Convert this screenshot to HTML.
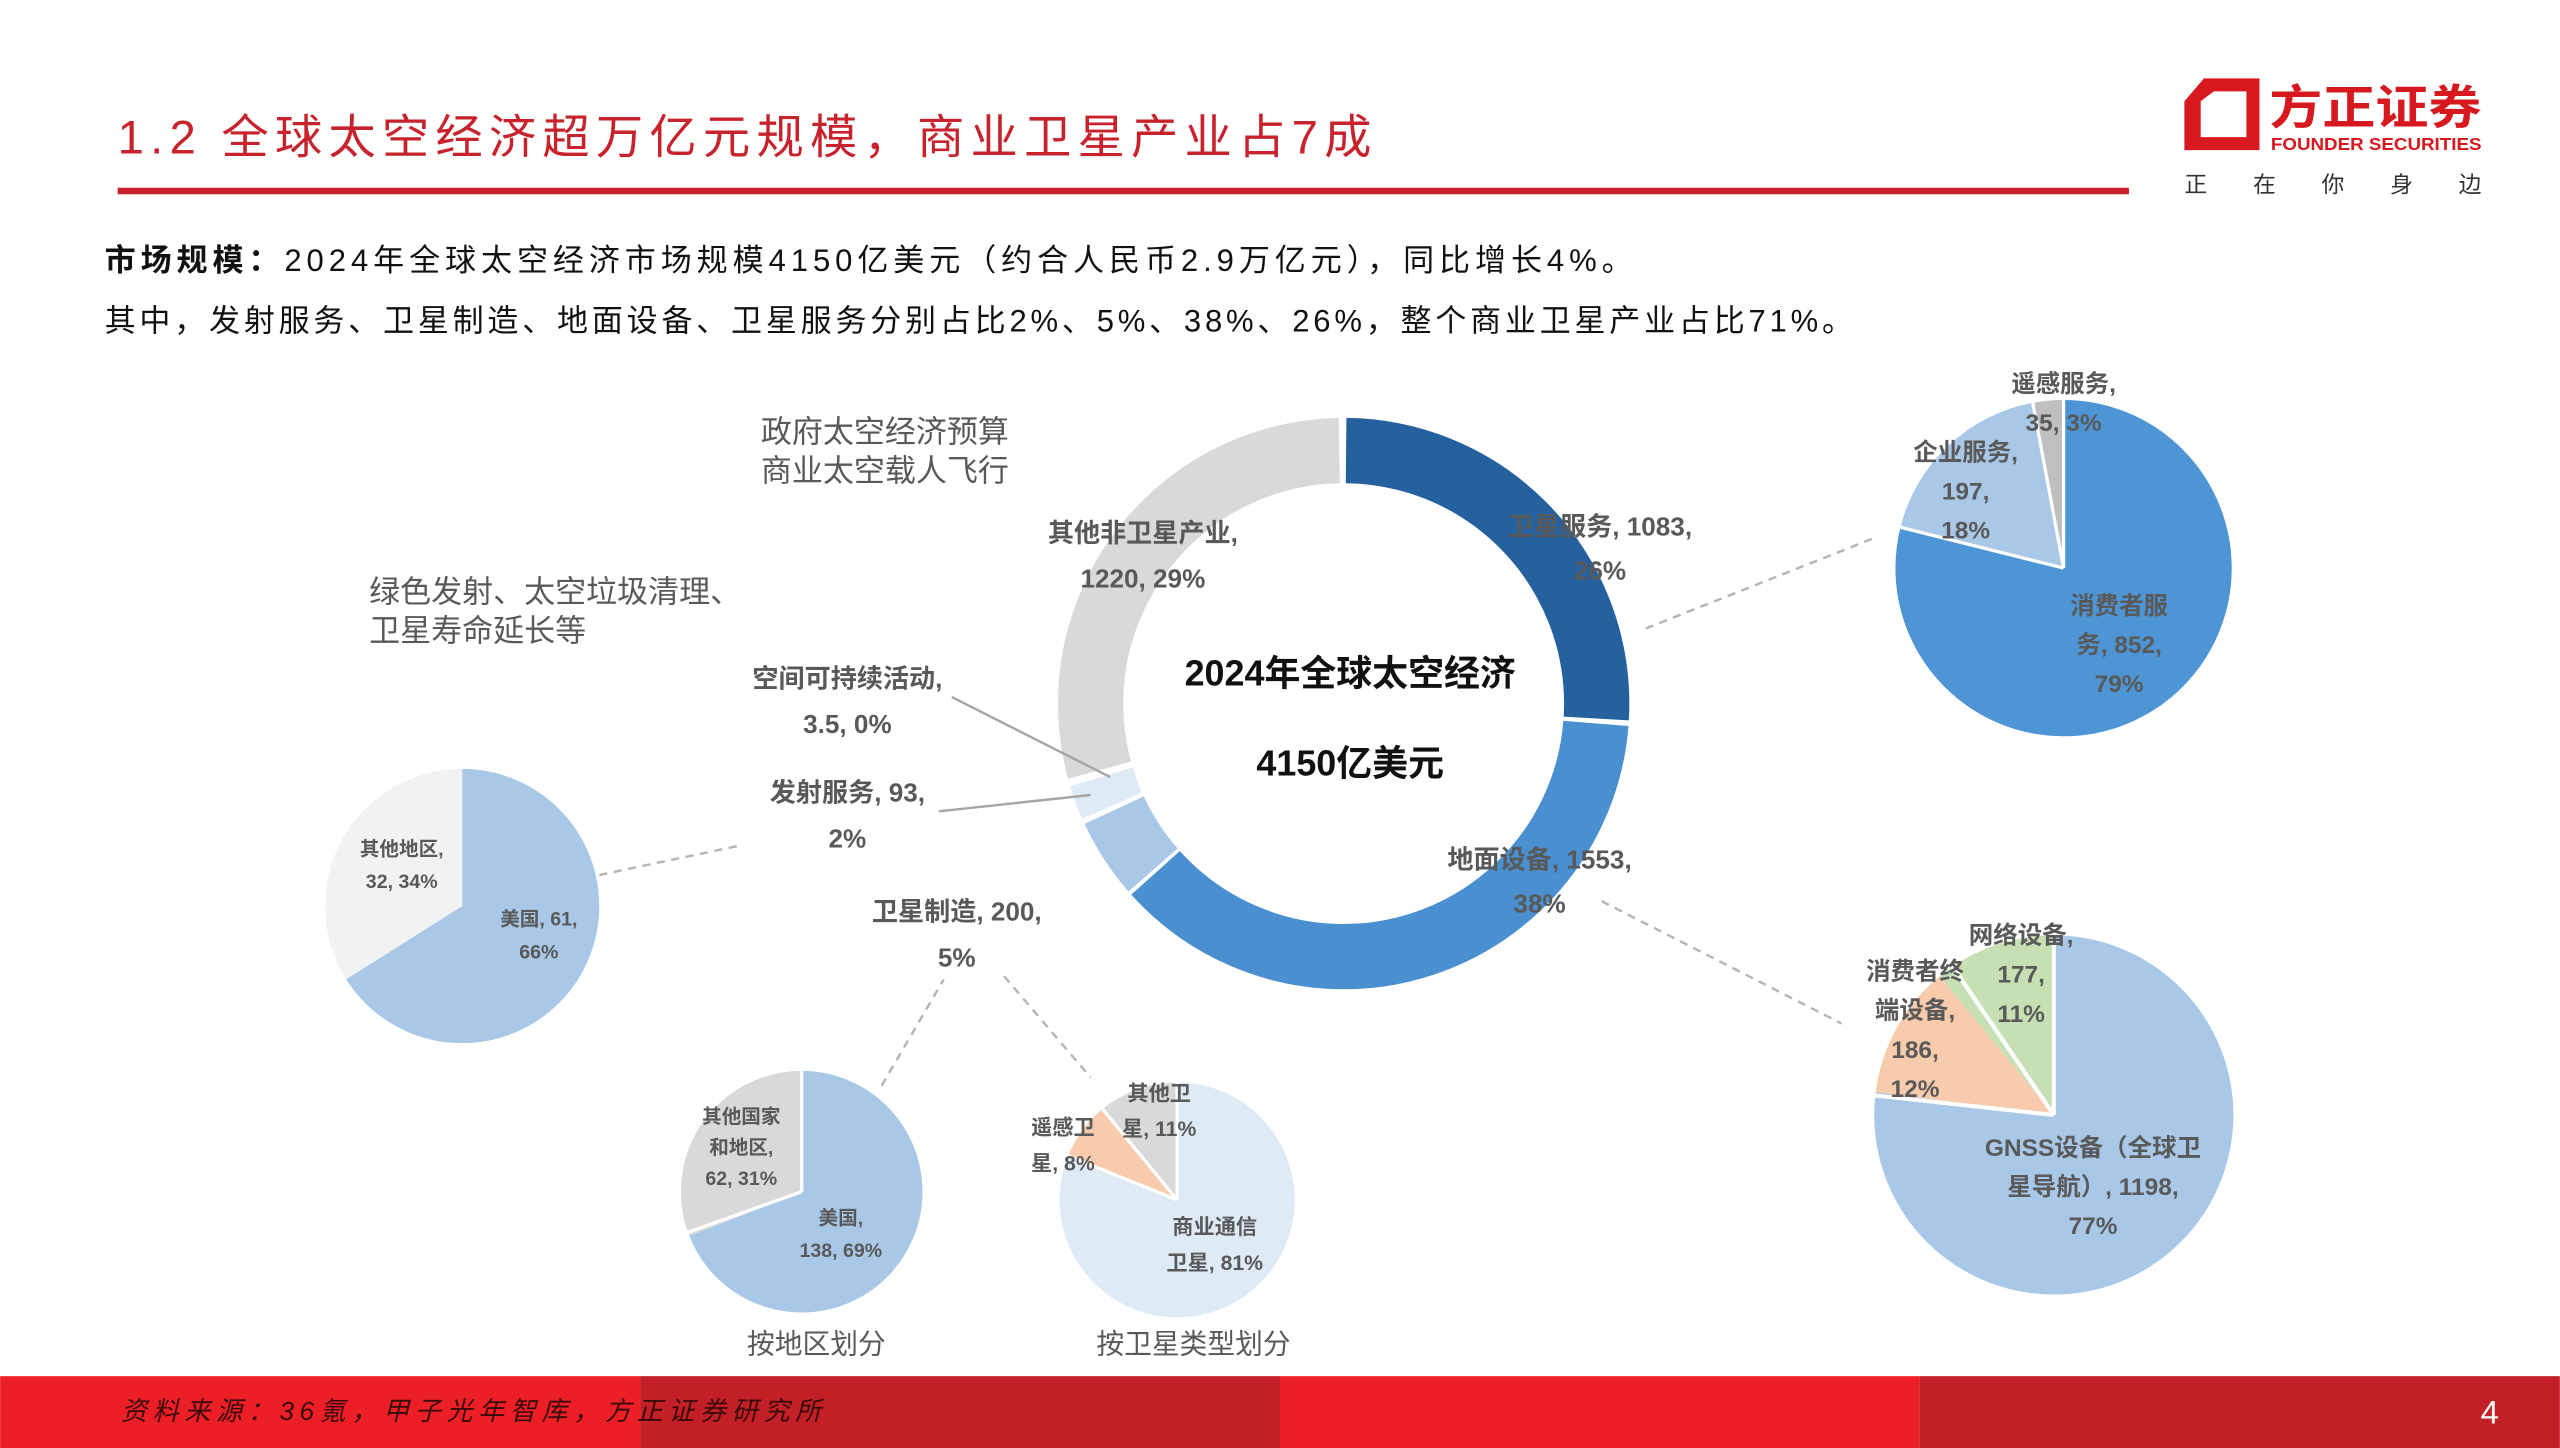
<!DOCTYPE html>
<html><head><meta charset="utf-8"><style>
html,body{margin:0;padding:0;background:#fff;}
svg{display:block;}
text{font-family:"Liberation Sans","Noto Sans CJK SC",sans-serif;}
</style></head><body>
<svg width="2560" height="1448" viewBox="0 0 1568 887" xmlns="http://www.w3.org/2000/svg">
<rect width="1568" height="887" fill="#fff"/>
<!-- title -->
<text x="72" y="94" font-size="29" fill="#c8232c" font-family="Liberation Serif,Noto Serif CJK SC,serif" textLength="768" lengthAdjust="spacing">1.2 全球太空经济超万亿元规模，商业卫星产业占7成</text>
<rect x="72" y="115" width="1232" height="4" fill="#c8232c"/>
<!-- logo -->
<path d="M1350 48 H1384 V92 H1338 V62 Z M1348 62 V84 H1376 V56 H1356 Z" fill="#d7191f"/>
<text x="1390" y="76" font-size="29" font-weight="bold" fill="#d7191f" textLength="130" lengthAdjust="spacingAndGlyphs">方正证券</text>
<text x="1391" y="92" font-size="11" font-weight="bold" fill="#d7191f" textLength="129" lengthAdjust="spacingAndGlyphs">FOUNDER SECURITIES</text>
<text x="1338" y="118" font-size="14" fill="#333" textLength="182" lengthAdjust="spacing">正在你身边</text>
<!-- body text -->
<text x="64" y="166" font-size="19" fill="#111" textLength="936" lengthAdjust="spacing"><tspan font-weight="bold">市场规模：</tspan>2024年全球太空经济市场规模4150亿美元（约合人民币2.9万亿元），同比增长4%。</text>
<text x="64" y="203" font-size="19" fill="#111" textLength="1071" lengthAdjust="spacing">其中，发射服务、卫星制造、地面设备、卫星服务分别占比2%、5%、38%、26%，整个商业卫星产业占比71%。</text>
<!-- donut -->
<g transform="translate(823,431) rotate(-90)" fill="none" stroke-width="40">
<circle r="155" stroke="#25609f" stroke-dasharray="251.1 722.8" stroke-dashoffset="-1.5"/>
<circle r="155" stroke="#4a8fcf" stroke-dasharray="361.2 612.7" stroke-dashoffset="-255.6"/>
<circle r="155" stroke="#a9c8e8" stroke-dasharray="43.9 930" stroke-dashoffset="-619.1"/>
<circle r="155" stroke="#deebf7" stroke-dasharray="18.8 955" stroke-dashoffset="-666.0"/>
<circle r="155" stroke="#d9d9d9" stroke-dasharray="282 692" stroke-dashoffset="-689.1"/>
</g>
<text x="827" y="420" font-size="22" font-weight="bold" fill="#111" text-anchor="middle">2024年全球太空经济</text>
<text x="827" y="475" font-size="22" font-weight="bold" fill="#111" text-anchor="middle">4150亿美元</text>
<g font-size="16" font-weight="bold" fill="#595959">
<text x="980" y="328" text-anchor="middle">卫星服务, 1083,</text>
<text x="980" y="355" text-anchor="middle">26%</text>
<text x="943" y="532" text-anchor="middle">地面设备, 1553,</text>
<text x="943" y="559" text-anchor="middle">38%</text>
<text x="700" y="332" text-anchor="middle">其他非卫星产业,</text>
<text x="700" y="360" text-anchor="middle">1220, 29%</text>
<text x="519" y="421" text-anchor="middle">空间可持续活动,</text>
<text x="519" y="449" text-anchor="middle">3.5, 0%</text>
<text x="519" y="491" text-anchor="middle">发射服务, 93,</text>
<text x="519" y="519" text-anchor="middle">2%</text>
<text x="586" y="564" text-anchor="middle">卫星制造, 200,</text>
<text x="586" y="592" text-anchor="middle">5%</text>
</g>
<g font-size="19" fill="#595959">
<text x="466" y="271">政府太空经济预算</text>
<text x="466" y="295">商业太空载人飞行</text>
<text x="226" y="369">绿色发射、太空垃圾清理、</text>
<text x="226" y="393">卫星寿命延长等</text>
<text x="500" y="829" font-size="17" text-anchor="middle">按地区划分</text>
<text x="731" y="829" font-size="17" text-anchor="middle">按卫星类型划分</text>
</g>
<!-- connector lines -->
<g stroke="#b5b5b5" stroke-width="1.5" stroke-dasharray="5 4" fill="none">
<line x1="1008" y1="385" x2="1147" y2="330"/>
<line x1="981" y1="552" x2="1128" y2="627"/>
<line x1="367" y1="536" x2="453" y2="518"/>
<line x1="540" y1="665" x2="578" y2="600"/>
<line x1="615" y1="598" x2="668" y2="660"/>
</g>
<g stroke="#a6a6a6" stroke-width="1.5">
<line x1="583" y1="427" x2="680" y2="476"/>
<line x1="575" y1="497" x2="668" y2="487"/>
</g>
<!-- top-right pie -->
<g transform="translate(1264,348) rotate(-90)" fill="none" stroke-width="103">
<circle r="51.5" stroke="#4e95d6" stroke-dasharray="255.6 68"/>
<circle r="51.5" stroke="#a9c8e8" stroke-dasharray="58.2 265.4" stroke-dashoffset="-255.6"/>
<circle r="51.5" stroke="#bfbfbf" stroke-dasharray="9.7 314" stroke-dashoffset="-313.8"/>
</g>
<g stroke="#fff" stroke-width="2"><line x1="1264" y1="348" x2="1264" y2="244"/><line x1="1264" y1="348" x2="1164" y2="323"/><line x1="1264" y1="348" x2="1245" y2="246"/></g>
<g font-size="15" font-weight="bold" fill="#595959" text-anchor="middle">
<text x="1264" y="240">遥感服务,</text><text x="1264" y="264">35, 3%</text>
<text x="1204" y="282">企业服务,</text><text x="1204" y="306">197,</text><text x="1204" y="330">18%</text>
<text x="1298" y="376">消费者服</text><text x="1298" y="400">务, 852,</text><text x="1298" y="424">79%</text>
</g>
<!-- bottom-right pie -->
<g transform="translate(1258,683) rotate(-90)" fill="none" stroke-width="110">
<circle r="55" stroke="#a9c8e8" stroke-dasharray="266.1 80"/>
<circle r="55" stroke="#f8cbad" stroke-dasharray="41.5 304" stroke-dashoffset="-266.1"/>
<circle r="55" stroke="#c6e0b4" stroke-dasharray="38 308" stroke-dashoffset="-307.6"/>
</g>
<g stroke="#fff" stroke-width="2.5"><line x1="1258" y1="683" x2="1258" y2="572"/><line x1="1258" y1="683" x2="1148" y2="671"/><line x1="1258" y1="683" x2="1196" y2="592"/></g>
<g font-size="15" font-weight="bold" fill="#595959" text-anchor="middle">
<text x="1238" y="578">网络设备,</text><text x="1238" y="602">177,</text><text x="1238" y="626">11%</text>
<text x="1173" y="600">消费者终</text><text x="1173" y="624">端设备,</text><text x="1173" y="648">186,</text><text x="1173" y="672">12%</text>
<text x="1282" y="708">GNSS设备（全球卫</text><text x="1282" y="732">星导航）, 1198,</text><text x="1282" y="756">77%</text>
</g>
<!-- left pie -->
<g transform="translate(283,555) rotate(-90)" fill="none" stroke-width="84">
<circle r="42" stroke="#a9c8e8" stroke-dasharray="174.2 90"/>
<circle r="42" stroke="#f2f2f2" stroke-dasharray="89.7 175" stroke-dashoffset="-174.2"/>
</g>
<g font-size="12" font-weight="bold" fill="#595959" text-anchor="middle">
<text x="246" y="524">其他地区,</text><text x="246" y="544">32, 34%</text>
<text x="330" y="567">美国, 61,</text><text x="330" y="587">66%</text>
</g>
<!-- bottom pie 1 -->
<g transform="translate(491,730) rotate(-90)" fill="none" stroke-width="74">
<circle r="37" stroke="#a9c8e8" stroke-dasharray="160.4 73"/>
<circle r="37" stroke="#d9d9d9" stroke-dasharray="72.1 161" stroke-dashoffset="-160.4"/>
</g>
<g stroke="#fff" stroke-width="2"><line x1="491" y1="730" x2="491" y2="655"/><line x1="491" y1="730" x2="421" y2="755"/></g>
<g font-size="12" font-weight="bold" fill="#595959" text-anchor="middle">
<text x="454" y="688">其他国家</text><text x="454" y="707">和地区,</text><text x="454" y="726">62, 31%</text>
<text x="515" y="750">美国,</text><text x="515" y="770">138, 69%</text>
</g>
<!-- bottom pie 2 -->
<g transform="translate(721,735) rotate(-90)" fill="none" stroke-width="72">
<circle r="36" stroke="#deebf7" stroke-dasharray="183.2 43"/>
<circle r="36" stroke="#f8cbad" stroke-dasharray="18.1 208" stroke-dashoffset="-183.2"/>
<circle r="36" stroke="#d9d9d9" stroke-dasharray="24.9 202" stroke-dashoffset="-201.3"/>
</g>
<g stroke="#fff" stroke-width="2"><line x1="721" y1="735" x2="721" y2="662"/><line x1="721" y1="735" x2="654" y2="708"/><line x1="721" y1="735" x2="675" y2="679"/></g>
<g font-size="13" font-weight="bold" fill="#595959" text-anchor="middle">
<text x="710" y="674">其他卫</text><text x="710" y="696">星, 11%</text>
<text x="651" y="695">遥感卫</text><text x="651" y="717">星, 8%</text>
<text x="744" y="756">商业通信</text><text x="744" y="778">卫星, 81%</text>
</g>
<!-- footer -->
<rect x="0" y="843" width="392" height="44" fill="#ec1f27"/>
<rect x="392" y="843" width="392" height="44" fill="#c21f27"/>
<rect x="784" y="843" width="392" height="44" fill="#ec1f27"/>
<rect x="1176" y="843" width="392" height="44" fill="#c21f27"/>
<text x="74" y="870" font-size="16" font-style="italic" fill="#3a0a0a" font-family="Liberation Serif,Noto Serif CJK SC,serif" textLength="429" lengthAdjust="spacing">资料来源：36氪，甲子光年智库，方正证券研究所</text>
<text x="1525" y="872" font-size="20" fill="#fff" text-anchor="middle">4</text>
</svg>
</body></html>
